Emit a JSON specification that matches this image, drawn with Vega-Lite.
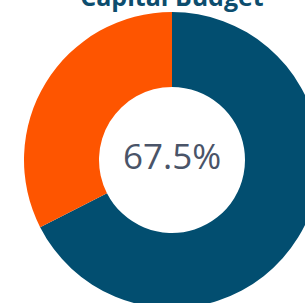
{
  "$schema": "https://vega.github.io/schema/vega-lite/v6.json",
  "width": 344,
  "height": 320,
  "autosize": "none",
  "padding": {"left": 0, "top": 0, "right": -39, "bottom": -17},
  "background": "white",
  "title": {
    "text": "Capital Budget",
    "font": "Open Sans",
    "fontSize": 25,
    "fontWeight": "bold",
    "color": "#0d4d6e",
    "anchor": "middle",
    "baseline": "alphabetic",
    "frame": "group",
    "offset": 0,
    "dy": 31
  },
  "config": {"view": {"stroke": null}},
  "data": {
    "values": [
      {"category": "Spent", "value": 67.5, "order": 1},
      {"category": "Remaining", "value": 32.5, "order": 2}
    ]
  },
  "layer": [
    {
      "mark": {"type": "arc", "outerRadius": 148, "innerRadius": 73},
      "encoding": {
        "theta": {"field": "value", "type": "quantitative", "stack": true},
        "order": {"field": "order", "type": "quantitative"},
        "color": {
          "field": "category",
          "type": "nominal",
          "scale": {"domain": ["Spent", "Remaining"], "range": ["#024e70", "#fe5500"]},
          "legend": null
        }
      }
    },
    {
      "data": {"values": [{"label": "67.5%"}]},
      "mark": {
        "type": "text",
        "font": "Open Sans",
        "fontSize": 35,
        "color": "#4a5468",
        "baseline": "middle",
        "align": "center",
        "dy": -2
      },
      "encoding": {"text": {"field": "label", "type": "nominal"}}
    }
  ]
}
